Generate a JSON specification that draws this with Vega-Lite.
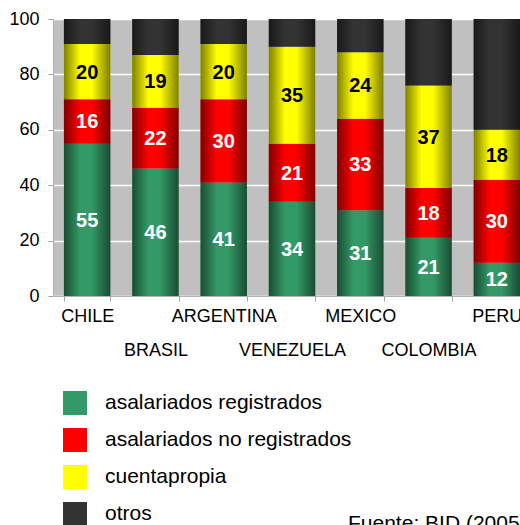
{
  "$schema": "https://vega.github.io/schema/vega-lite/v6.json",
  "width": 467,
  "height": 277,
  "autosize": {"type": "none"},
  "padding": {"left": 53, "top": 19, "right": 0, "bottom": 229},
  "background": "white",
  "config": {"view": {"fill": "#c0c0c0", "stroke": null}, "font": "Liberation Sans"},
  "data": {"values": [
    {"pais": "CHILE", "tipo": "asalariados registrados", "orden": 1, "valor": 55},
    {"pais": "CHILE", "tipo": "asalariados no registrados", "orden": 2, "valor": 16},
    {"pais": "CHILE", "tipo": "cuentapropia", "orden": 3, "valor": 20},
    {"pais": "CHILE", "tipo": "otros", "orden": 4, "valor": 9},
    {"pais": "BRASIL", "tipo": "asalariados registrados", "orden": 1, "valor": 46},
    {"pais": "BRASIL", "tipo": "asalariados no registrados", "orden": 2, "valor": 22},
    {"pais": "BRASIL", "tipo": "cuentapropia", "orden": 3, "valor": 19},
    {"pais": "BRASIL", "tipo": "otros", "orden": 4, "valor": 13},
    {"pais": "ARGENTINA", "tipo": "asalariados registrados", "orden": 1, "valor": 41},
    {"pais": "ARGENTINA", "tipo": "asalariados no registrados", "orden": 2, "valor": 30},
    {"pais": "ARGENTINA", "tipo": "cuentapropia", "orden": 3, "valor": 20},
    {"pais": "ARGENTINA", "tipo": "otros", "orden": 4, "valor": 9},
    {"pais": "VENEZUELA", "tipo": "asalariados registrados", "orden": 1, "valor": 34},
    {"pais": "VENEZUELA", "tipo": "asalariados no registrados", "orden": 2, "valor": 21},
    {"pais": "VENEZUELA", "tipo": "cuentapropia", "orden": 3, "valor": 35},
    {"pais": "VENEZUELA", "tipo": "otros", "orden": 4, "valor": 10},
    {"pais": "MEXICO", "tipo": "asalariados registrados", "orden": 1, "valor": 31},
    {"pais": "MEXICO", "tipo": "asalariados no registrados", "orden": 2, "valor": 33},
    {"pais": "MEXICO", "tipo": "cuentapropia", "orden": 3, "valor": 24},
    {"pais": "MEXICO", "tipo": "otros", "orden": 4, "valor": 12},
    {"pais": "COLOMBIA", "tipo": "asalariados registrados", "orden": 1, "valor": 21},
    {"pais": "COLOMBIA", "tipo": "asalariados no registrados", "orden": 2, "valor": 18},
    {"pais": "COLOMBIA", "tipo": "cuentapropia", "orden": 3, "valor": 37},
    {"pais": "COLOMBIA", "tipo": "otros", "orden": 4, "valor": 24},
    {"pais": "PERU", "tipo": "asalariados registrados", "orden": 1, "valor": 12},
    {"pais": "PERU", "tipo": "asalariados no registrados", "orden": 2, "valor": 30},
    {"pais": "PERU", "tipo": "cuentapropia", "orden": 3, "valor": 18},
    {"pais": "PERU", "tipo": "otros", "orden": 4, "valor": 40}
  ]},
  "transform": [
    {"stack": "valor", "groupby": ["pais"], "sort": [{"field": "orden", "order": "ascending"}], "as": ["v0", "v1"]}
  ],
  "encoding": {
    "x": {
      "field": "pais",
      "type": "nominal",
      "sort": ["CHILE", "BRASIL", "ARGENTINA", "VENEZUELA", "MEXICO", "COLOMBIA", "PERU"],
      "scale": {"range": [0, 478], "paddingInner": 0.32, "paddingOuter": 0.16},
      "axis": {
        "title": null,
        "labelAngle": 0,
        "labelFontSize": 18,
        "labelColor": "black",
        "labelPadding": {"condition": {"test": "indexof(['BRASIL','VENEZUELA','COLOMBIA'], datum.value) >= 0", "value": 40}, "value": 6},
        "labelOverlap": false,
        "labelBound": false,
        "labelFlush": false,
        "labelLimit": 300,
        "tickBand": "extent",
        "tickSize": 5,
        "tickColor": "#a0a0a0",
        "domainColor": "#b0b0b0",
        "grid": false
      }
    },
    "y": {
      "field": "v0",
      "type": "quantitative",
      "scale": {"domain": [0, 100], "nice": false},
      "axis": {
        "title": null,
        "values": [0, 20, 40, 60, 80, 100],
        "labelFontSize": 18,
        "labelColor": "black",
        "labelPadding": 9,
        "tickSize": 5,
        "tickColor": "#a0a0a0",
        "domainColor": "#b0b0b0",
        "gridColor": "white",
        "gridWidth": 1.5
      }
    }
  },
  "layer": [
    {
      "mark": {"type": "bar", "clip": true},
      "encoding": {
        "y2": {"field": "v1"},
        "color": {
          "field": "tipo",
          "type": "nominal",
          "scale": {
            "domain": ["asalariados registrados", "asalariados no registrados", "cuentapropia", "otros"],
            "range": ["#339966", "#ff0000", "#ffff00", "#333333"]
          },
          "legend": {
            "orient": "none",
            "legendX": 10,
            "legendY": 372,
            "title": null,
            "symbolType": "square",
            "symbolSize": 576,
            "symbolStrokeWidth": 0,
            "symbolOpacity": 1,
            "labelFontSize": 21,
            "labelColor": "black",
            "labelOffset": 18,
            "rowPadding": 13,
            "labelLimit": 400,
            "padding": 0
          }
        }
      }
    },
    {
      "mark": {
        "type": "bar",
        "clip": true,
        "fill": {
          "gradient": "linear",
          "x1": 0, "x2": 1, "y1": 0, "y2": 0,
          "stops": [
            {"offset": 0, "color": "rgba(0,0,0,0.5)"},
            {"offset": 0.35, "color": "rgba(0,0,0,0)"},
            {"offset": 0.6, "color": "rgba(0,0,0,0)"},
            {"offset": 1, "color": "rgba(0,0,0,0.5)"}
          ]
        }
      },
      "encoding": {"y2": {"field": "v1"}}
    },
    {
      "transform": [{"filter": "datum.tipo != 'otros'"}],
      "mark": {
        "type": "text",
        "fontSize": 20,
        "fontWeight": "bold",
        "baseline": "middle",
        "clip": true,
        "dy": {"expr": "(scale('y', datum.v1) - scale('y', datum.v0)) / 2 + 1"}
      },
      "encoding": {
        "text": {"field": "valor", "type": "quantitative"},
        "color": {"condition": {"test": "datum.tipo == 'cuentapropia'", "value": "black"}, "value": "white"}
      }
    }
  ],
  "title": {
    "text": "Fuente: BID (2005)",
    "orient": "bottom",
    "anchor": "start",
    "frame": "group",
    "dx": 295,
    "offset": -13,
    "fontSize": 21,
    "fontWeight": "normal",
    "color": "black"
  }
}
